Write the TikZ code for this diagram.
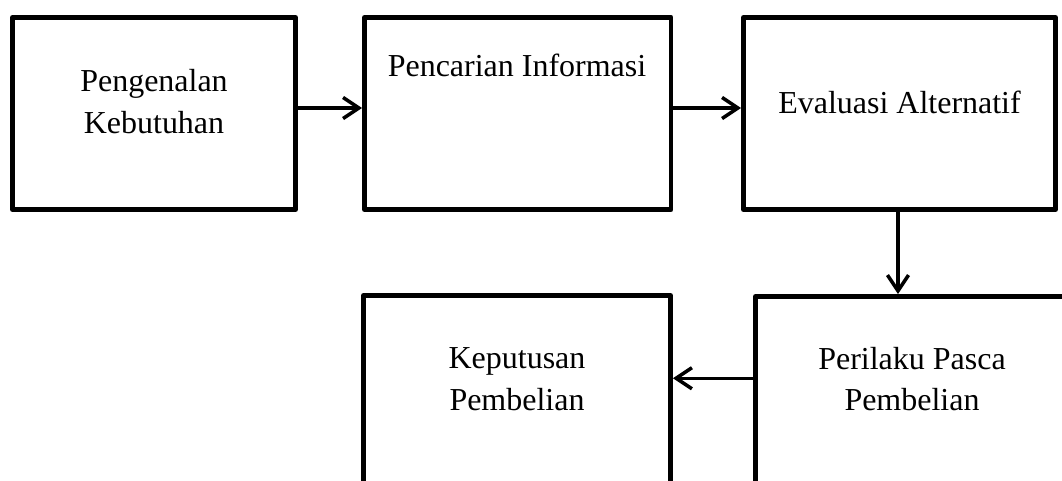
\documentclass[tikz,border=0pt]{standalone}
\usepackage{fontspec}
\setmainfont{Liberation Serif}
\usetikzlibrary{arrows.meta}

\begin{document}
\begin{tikzpicture}[>={Straight Barb[length=9pt, width=12pt]},
    box/.style={draw, line width=2.8pt, line join=round, inner sep=0pt},
    txt/.style={align=center, font=\fontsize{18.2}{23.8}\selectfont},
    arr/.style={->, line width=2pt}]
            \useasboundingbox (0, 0) rectangle (21.24, -9.6);
            \clip (0, 0) rectangle (21.24, -9.6);
            % kotak tahap
            \node[box, minimum width=5.66cm, minimum height=3.84cm] (pengenalan) at (3.08, -2.27) {};
            \node[box, minimum width=6.13cm, minimum height=3.84cm] (pencarian) at (10.355, -2.27) {};
            \node[box, minimum width=6.24cm, minimum height=3.84cm] (evaluasi) at (17.99, -2.27) {};
            \node[box, minimum width=6.14cm, minimum height=4.09cm] (keputusan) at (10.34, -7.955) {};
            \node[box, minimum width=6.26cm, minimum height=4.07cm] (perilaku) at (18.24, -7.965) {};
            % teks
            \node[txt] (pengenalanT) at (3.08, -2.03) {Pengenalan\\Kebutuhan};
            \node[txt] (pencarianT) at (10.34, -1.31) {Pencarian Informasi};
            \node[txt] (evaluasiT) at (17.99, -2.05) {Evaluasi Alternatif};
            \node[txt] (keputusanT) at (10.34, -7.59) {Keputusan\\Pembelian};
            \node[txt] (perilakuT) at (18.24, -7.58) {Perilaku Pasca\\Pembelian};
            % panah
            \coordinate (p1) at ([yshift=0.11cm]pengenalan.east);
            \coordinate (p2) at ([yshift=0.11cm]pencarian.east);
            \coordinate (p3) at ([xshift=-0.03cm]evaluasi.south);
            \coordinate (p5) at ([yshift=0.4cm]perilaku.west);
            \draw[arr] (p1) -- (p1 -| pencarian.west);
            \draw[arr] (p2) -- (p2 -| evaluasi.west);
            \draw[arr] (p3) -- (p3 |- perilaku.north);
            \draw[arr] (p5) -- (p5 -| keputusan.east);
        \end{tikzpicture}
\end{document}
